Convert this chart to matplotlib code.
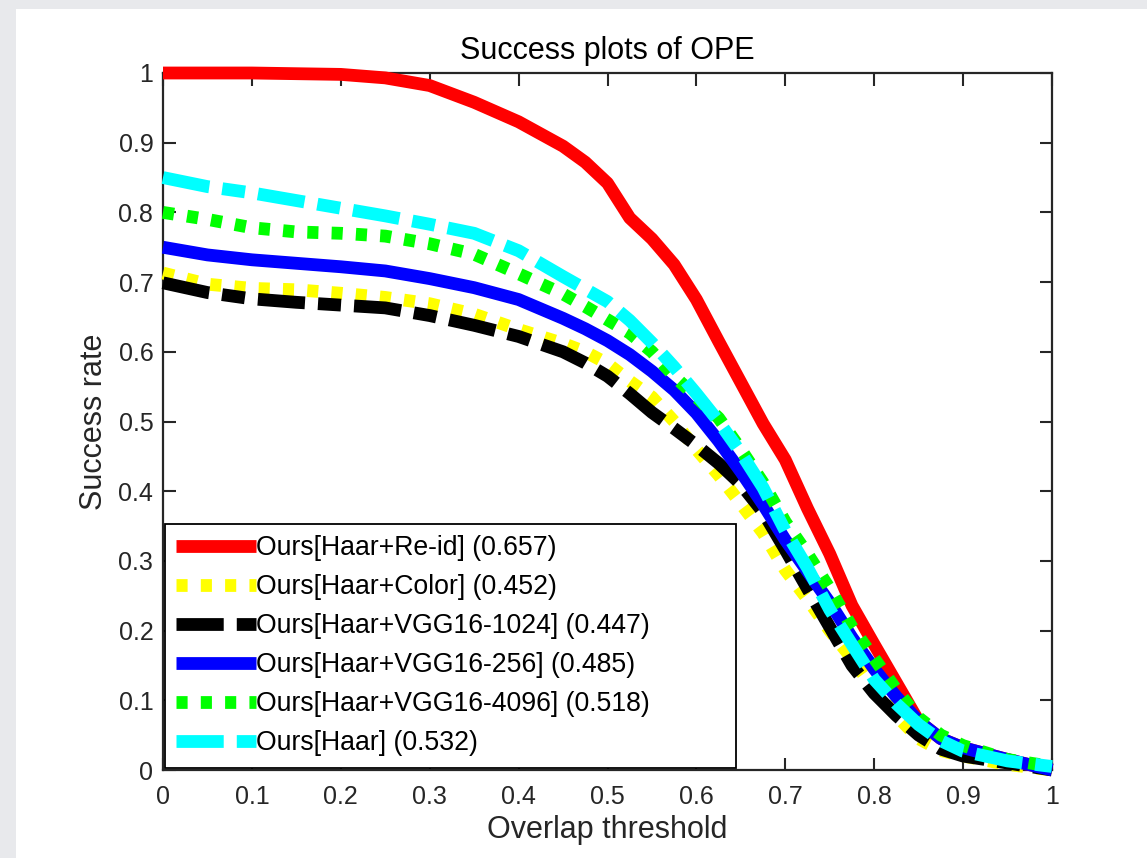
import matplotlib
matplotlib.use("Agg")
import matplotlib.pyplot as plt
from matplotlib.patches import Rectangle
import numpy as np

plt.rcParams['font.family'] = ['Liberation Sans', 'DejaVu Sans']
plt.rcParams['lines.scale_dashes'] = False

thresholds = [0.0, 0.05, 0.1, 0.15, 0.2, 0.25, 0.3, 0.35, 0.4, 0.45,
              0.475, 0.5, 0.525, 0.55, 0.575, 0.6, 0.625, 0.65, 0.675, 0.7,
              0.725, 0.75, 0.775, 0.8, 0.825, 0.85, 0.875, 0.9, 0.95, 1.0]

haar_reid = [1.0, 1.0, 1.0, 0.999, 0.998, 0.993, 0.982, 0.958, 0.93, 0.895,
             0.872, 0.842, 0.792, 0.762, 0.725, 0.675, 0.615, 0.556, 0.497, 0.445,
             0.375, 0.31, 0.236, 0.18, 0.125, 0.07, 0.045, 0.032, 0.015, 0.0]
haar_color = [0.713, 0.697, 0.691, 0.689, 0.684, 0.678, 0.669, 0.654, 0.632, 0.612,
              0.6, 0.583, 0.558, 0.535, 0.50, 0.46, 0.423, 0.382, 0.34, 0.287,
              0.245, 0.2, 0.16, 0.115, 0.078, 0.045, 0.028, 0.02, 0.008, 0.0]
haar_vgg1024 = [0.699, 0.685, 0.676, 0.671, 0.667, 0.663, 0.652, 0.638, 0.622, 0.6,
                0.584, 0.565, 0.54, 0.513, 0.49, 0.466, 0.44, 0.41, 0.37, 0.316,
                0.26, 0.205, 0.15, 0.11, 0.078, 0.05, 0.03, 0.02, 0.01, 0.0]
haar_vgg256 = [0.75, 0.739, 0.732, 0.727, 0.722, 0.716, 0.705, 0.692, 0.675, 0.648,
               0.633, 0.616, 0.596, 0.572, 0.545, 0.512, 0.472, 0.428, 0.381, 0.33,
               0.285, 0.24, 0.19, 0.145, 0.105, 0.07, 0.045, 0.032, 0.015, 0.0]
haar_vgg4096 = [0.80, 0.79, 0.778, 0.772, 0.770, 0.766, 0.755, 0.740, 0.712, 0.683,
                0.665, 0.646, 0.627, 0.60, 0.565, 0.535, 0.505, 0.46, 0.412, 0.356,
                0.31, 0.26, 0.205, 0.16, 0.115, 0.075, 0.05, 0.035, 0.015, 0.005]
haar_only = [0.85, 0.837, 0.828, 0.817, 0.806, 0.795, 0.783, 0.770, 0.745, 0.708,
             0.69, 0.672, 0.645, 0.613, 0.578, 0.54, 0.50, 0.455, 0.405, 0.343,
             0.29, 0.23, 0.18, 0.13, 0.095, 0.065, 0.042, 0.027, 0.013, 0.005]

labels = ["Ours[Haar+Re-id] (0.657)", "Ours[Haar+Color] (0.452)",
          "Ours[Haar+VGG16-1024] (0.447)", "Ours[Haar+VGG16-256] (0.485)",
          "Ours[Haar+VGG16-4096] (0.518)", "Ours[Haar] (0.532)"]
series = [haar_reid, haar_color, haar_vgg1024, haar_vgg256, haar_vgg4096, haar_only]
colors = ["#ff0000", "#ffff00", "#000000", "#0000ff", "#00ff00", "#00ffff"]
dotted = (0, (8.0, 9.5))
dashed = (0, (34, 9.4, 16.6, 9.4))
styles = ["-", dotted, dashed, "-", dotted, dashed]

fig = plt.figure(figsize=(11.47, 8.58), dpi=100)
fig.patch.set_facecolor("#e8e9ec")
fig.patches.append(Rectangle((16 / 1147, 0), 1, 1 - 9 / 858, transform=fig.transFigure,
                             facecolor="white", edgecolor="none", zorder=-10))

ax = fig.add_axes([163 / 1147, 88 / 858, 889 / 1147, 697 / 858])
ax.set_facecolor("white")

for y, c, ls, lab in zip(series, colors, styles, labels):
    ax.plot(thresholds, y, color=c, linestyle=ls, linewidth=9.2, label=lab,
            clip_on=False, solid_capstyle="butt", dash_capstyle="butt",
            solid_joinstyle="round", dash_joinstyle="round")

ax.set_xlim(0, 1)
ax.set_ylim(0, 1)
ticks = np.round(np.arange(0, 1.01, 0.1), 1)
ax.set_xticks(ticks)
ax.set_yticks(ticks)
ax.set_xticklabels(["0"] + [f"{t:.1f}" for t in ticks[1:-1]] + ["1"])
ax.set_yticklabels(["0"] + [f"{t:.1f}" for t in ticks[1:-1]] + ["1"])
ax.tick_params(direction="in", length=9, width=1.5, colors="#262626",
               labelsize=18, top=True, right=True)
ax.tick_params(axis="x", pad=11)
ax.tick_params(axis="y", pad=7)
for s in ax.spines.values():
    s.set_color("#262626")
    s.set_linewidth(1.6)
    s.set_zorder(0.5)

ax.set_title("Success plots of OPE", fontsize=22, color="black", pad=10)
ax.set_xlabel("Overlap threshold", fontsize=22, color="#262626", labelpad=4)
ax.set_ylabel("Success rate", fontsize=22, color="#262626", labelpad=6.5)

leg = ax.legend(loc="lower left", bbox_to_anchor=(0.002, 0.003, 0.642, 0.35),
                mode="expand", borderaxespad=0,
                fontsize=19.2, handlelength=3.0, handletextpad=0.0,
                labelspacing=0.49, borderpad=0.43, fancybox=False, framealpha=1,
                edgecolor="black")
leg.get_frame().set_linewidth(1.3)
leg.set_zorder(10)

fig.savefig("out.png", dpi=100, facecolor=fig.get_facecolor())
